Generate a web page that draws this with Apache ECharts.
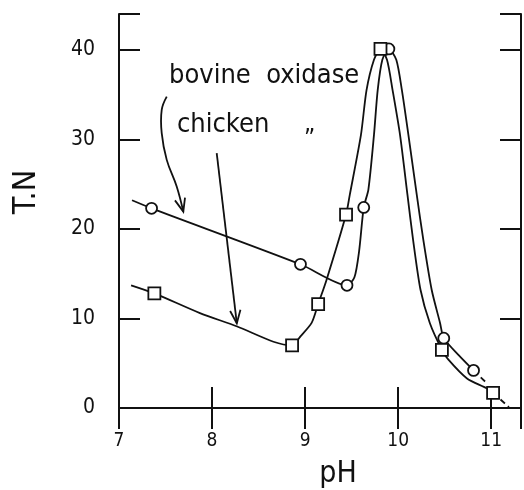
<!DOCTYPE html>
<html>
<head>
<meta charset="utf-8">
<script src="https://cdn.jsdelivr.net/npm/echarts@6/dist/echarts.min.js"></script>
<style>html,body{margin:0;background:#fff;}</style>
<title>TN vs pH</title>
</head>
<body>
<div id="main" style="width:524px;height:490px;"></div>
<script>
// measured points (pH, T.N)
const bovinePoints = [[7.35, 22.3], [8.95, 16.05], [9.45, 13.7], [9.63, 22.4], [9.90, 40.1], [10.49, 7.8], [10.81, 4.2]];
const chickenPoints = [[7.38, 12.8], [8.86, 7.0], [9.14, 11.6], [9.44, 21.6], [9.81, 40.1], [10.47, 6.5], [11.02, 1.7]];

// hand drawn curves
const bovineCurve = [[7.14, 23.2], [7.35, 22.3], [8.95, 16.05], [9.45, 13.7], [9.53, 14.6], [9.58, 17.5], [9.63, 22.4],
  [9.68, 24.4], [9.74, 30.5], [9.78, 35.5], [9.83, 38.9], [9.90, 40.1], [9.98, 38.9], [10.04, 35.5], [10.11, 30.5],
  [10.20, 23.8], [10.27, 18.8], [10.36, 13.2], [10.45, 9.5], [10.49, 7.8], [10.65, 5.9], [10.81, 4.2]];
const bovineTail = [[10.81, 4.2], [10.94, 2.9]];
const chickenCurve = [[7.13, 13.7], [7.38, 12.8], [7.87, 10.6], [8.27, 9.1], [8.66, 7.4], [8.86, 7.0],
  [8.95, 8.0], [9.07, 9.5], [9.14, 11.6], [9.23, 14.3], [9.44, 21.6], [9.48, 23.8], [9.60, 30.5], [9.66, 35.5],
  [9.74, 38.9], [9.81, 40.1], [9.88, 38.9], [9.94, 35.5], [10.02, 30.5], [10.10, 23.8], [10.16, 18.8], [10.24, 13.2],
  [10.34, 9.5], [10.47, 6.5], [10.54, 5.4], [10.74, 3.3], [10.95, 2.2], [11.02, 1.7]];
const chickenTail = [[11.02, 1.7], [11.19, 0.1]];

// annotation arrows (data coords)
const bovineArrow = [[7.513, 34.78], [7.459, 33.3], [7.459, 30.69], [7.513, 27.71], [7.62, 24.73], [7.691, 21.93]];
const chickenArrow = [[8.05, 28.46], [8.266, 9.46]];

const xTicks = [7, 8, 9, 10, 11];
const yTicks = [0, 10, 20, 30, 40];

const FONT = '"Liberation Sans Narrow", "DejaVu Sans Condensed", sans-serif';
const INK = '#111';

let myChart = echarts.init(document.getElementById('main'));

function frameAxis(pos, isX, labels) {
  return {
    type: 'value',
    position: pos,
    min: isX ? 7 : 0,
    max: isX ? 11.32 : 44,
    interval: isX ? 1 : 10,
    axisLine: { show: true, lineStyle: { color: INK, width: 2 } },
    axisTick: { show: true, inside: true, length: 21, lineStyle: { color: INK, width: 2 } },
    splitLine: { show: false },
    axisLabel: {
      show: labels,
      color: INK,
      fontFamily: FONT,
      fontSize: isX ? 19 : 21,
      margin: 24,
      formatter: function (v) {
        let list = isX ? xTicks : yTicks;
        return list.indexOf(v) >= 0 ? String(v) : '';
      }
    }
  };
}

option = {
  animation: false,
  backgroundColor: '#fff',
  grid: { left: 119, right: 3, top: 14, bottom: 82 },
  xAxis: [frameAxis('bottom', true, true), frameAxis('top', true, false)],
  yAxis: [frameAxis('left', false, true), frameAxis('right', false, false)],
  series: [
    {
      type: 'line', data: bovineCurve, smooth: 0.25, symbol: 'none',
      lineStyle: { color: INK, width: 1.8 }, z: 2
    },
    {
      type: 'line', data: bovineTail, symbol: 'none',
      lineStyle: { color: INK, width: 1.8, type: [6, 4] }, z: 2
    },
    {
      type: 'line', data: chickenCurve, smooth: 0.25, symbol: 'none',
      lineStyle: { color: INK, width: 1.8 }, z: 2
    },
    {
      type: 'line', data: chickenTail, symbol: 'none',
      lineStyle: { color: INK, width: 1.8, type: [6, 4] }, z: 2
    },
    {
      type: 'scatter', data: bovinePoints, symbol: 'circle', symbolSize: 11,
      itemStyle: { color: '#fff', borderColor: INK, borderWidth: 1.8, opacity: 1 }, z: 4
    },
    {
      type: 'scatter', data: chickenPoints, symbol: 'rect', symbolSize: 12,
      itemStyle: { color: '#fff', borderColor: INK, borderWidth: 1.8, opacity: 1 }, z: 4
    }
  ]
};
myChart.setOption(option);

// arrows + texts
function px(p) { return myChart.convertToPixel({ xAxisIndex: 0, yAxisIndex: 0 }, p); }

function arrowGraphics(pts, smooth) {
  let pp = pts.map(px);
  let tip = pp[pp.length - 1], prev = pp[pp.length - 2];
  let ang = Math.atan2(tip[1] - prev[1], tip[0] - prev[0]);
  let L = 14, spread = 0.38;
  let head = [
    [tip[0] - L * Math.cos(ang - spread), tip[1] - L * Math.sin(ang - spread)],
    tip,
    [tip[0] - L * Math.cos(ang + spread), tip[1] - L * Math.sin(ang + spread)]
  ];
  return [
    { type: 'polyline', shape: { points: pp, smooth: smooth }, style: { stroke: INK, lineWidth: 1.8, fill: null } },
    { type: 'polyline', shape: { points: head }, style: { stroke: INK, lineWidth: 1.8, fill: null } }
  ];
}

let graphics = [].concat(arrowGraphics(bovineArrow, 0.4), arrowGraphics(chickenArrow, 0));
graphics.push(
  { type: 'text', x: 169, y: 62, style: { text: 'bovine  oxidase', font: '27px ' + FONT, fill: INK } },
  { type: 'text', x: 177, y: 111, style: { text: 'chicken', font: '27px ' + FONT, fill: INK } },
  { type: 'text', x: 304, y: 128, style: { text: '\u201D', font: '24px ' + FONT, fill: INK } },
  { type: 'text', x: 27, y: 192, rotation: Math.PI / 2,
    style: { text: 'T.N', font: '32px ' + FONT, fill: INK, align: 'center', verticalAlign: 'middle' } },
  { type: 'text', x: 338, y: 474,
    style: { text: 'pH', font: '30px ' + FONT, fill: INK, align: 'center', verticalAlign: 'middle' } }
);
myChart.setOption({ graphic: graphics });
</script>
</body>
</html>
